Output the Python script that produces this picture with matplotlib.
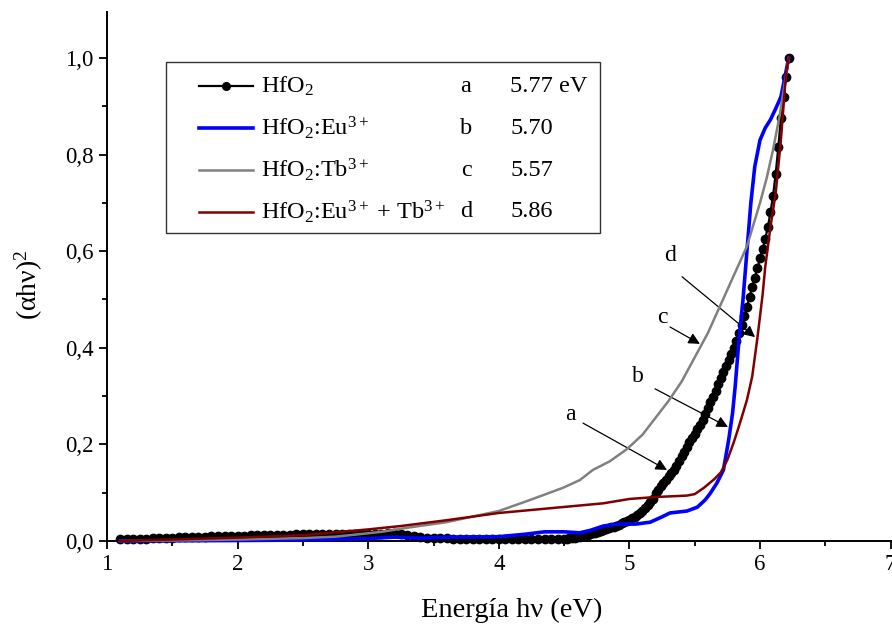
import numpy as np
import matplotlib
matplotlib.use("Agg")
import matplotlib.pyplot as plt
from matplotlib.ticker import MultipleLocator, FuncFormatter
from matplotlib.lines import Line2D
from matplotlib.patches import Rectangle

plt.rcParams['font.family'] = ['Liberation Serif', 'DejaVu Serif']
plt.rcParams['mathtext.fontset'] = 'custom'
plt.rcParams['mathtext.rm'] = 'Liberation Serif'
plt.rcParams['mathtext.it'] = 'Liberation Serif:italic'
plt.rcParams['mathtext.bf'] = 'Liberation Serif:bold'

# ---------------- data ----------------
# HfO2 (black, dotted markers)
hfo2_x_low = np.round(np.arange(1.10, 4.501, 0.05), 2)
hfo2_y_low = [0.004, 0.004, 0.004, 0.005, 0.005, 0.006, 0.006, 0.007, 0.007, 0.008,
              0.008, 0.009, 0.009, 0.009, 0.010, 0.010, 0.010, 0.011, 0.011, 0.011,
              0.012, 0.012, 0.012, 0.013, 0.013, 0.013, 0.013, 0.014, 0.014, 0.014,
              0.014, 0.014, 0.014, 0.014, 0.014, 0.014, 0.014, 0.014, 0.014, 0.015,
              0.015, 0.016, 0.016, 0.015, 0.012, 0.010, 0.008, 0.007, 0.006, 0.006,
              0.006, 0.005, 0.005, 0.005, 0.005, 0.004, 0.004, 0.004, 0.004, 0.004,
              0.004, 0.004, 0.004, 0.004, 0.004, 0.004, 0.004, 0.004, 0.005]
hfo2_x_high = np.round(np.arange(4.52, 6.221, 0.02), 2)
hfo2_y_high = [0.005, 0.006, 0.006, 0.007, 0.008, 0.009, 0.010, 0.011, 0.013, 0.014,
               0.016, 0.017, 0.019, 0.021, 0.022, 0.024, 0.026, 0.028, 0.030, 0.032,
               0.034, 0.037, 0.039, 0.042, 0.044, 0.047, 0.050, 0.054, 0.058, 0.063,
               0.068, 0.074, 0.080, 0.087, 0.100, 0.106, 0.113, 0.120, 0.127, 0.134,
               0.141, 0.148, 0.156, 0.165, 0.175, 0.185, 0.195, 0.204, 0.213, 0.222,
               0.231, 0.241, 0.251, 0.263, 0.275, 0.287, 0.299, 0.311, 0.324, 0.337,
               0.350, 0.362, 0.375, 0.388, 0.400, 0.415, 0.430, 0.447, 0.465, 0.485,
               0.505, 0.525, 0.545, 0.565, 0.585, 0.605, 0.625, 0.650, 0.680, 0.715,
               0.760, 0.815, 0.875, 0.920, 0.960, 1.000]

# HfO2:Eu3+ (blue)
eu_x = [1.10, 2.00, 2.50, 3.00, 3.20, 3.40, 3.60, 4.00, 4.20, 4.35, 4.50, 4.62, 4.70,
        4.80, 4.90, 5.05, 5.16, 5.25, 5.31, 5.44, 5.52, 5.58, 5.62, 5.67, 5.72, 5.76,
        5.79, 5.81, 5.84, 5.87, 5.90, 5.93, 5.96, 6.00, 6.04, 6.08, 6.12, 6.16, 6.22]
eu_y = [0.000, 0.001, 0.002, 0.005, 0.008, 0.006, 0.008, 0.009, 0.014, 0.019, 0.019,
        0.017, 0.022, 0.031, 0.035, 0.035, 0.039, 0.050, 0.058, 0.062, 0.070, 0.085,
        0.099, 0.120, 0.147, 0.209, 0.265, 0.320, 0.420, 0.500, 0.600, 0.700, 0.775,
        0.830, 0.855, 0.872, 0.895, 0.919, 1.000]

# HfO2:Tb3+ (grey)
tb_x = [1.10, 1.50, 2.00, 2.50, 2.75, 3.00, 3.10, 3.34, 3.60, 3.86, 4.00, 4.24, 4.49,
        4.62, 4.72, 4.85, 4.98, 5.10, 5.20, 5.30, 5.40, 5.50, 5.60, 5.70, 5.80, 5.90,
        6.00, 6.05, 6.10, 6.15, 6.22]
tb_y = [0.000, 0.001, 0.003, 0.006, 0.009, 0.016, 0.019, 0.029, 0.039, 0.054, 0.062,
        0.085, 0.110, 0.126, 0.147, 0.165, 0.190, 0.220, 0.255, 0.290, 0.330, 0.380,
        0.430, 0.490, 0.550, 0.610, 0.700, 0.750, 0.810, 0.880, 1.000]

# HfO2:Eu3+ + Tb3+ (dark red)
eutb_x = [1.10, 1.50, 2.00, 2.50, 3.00, 3.25, 3.60, 4.00, 4.40, 4.80, 5.00, 5.20, 5.44,
          5.50, 5.57, 5.65, 5.70, 5.75, 5.80, 5.83, 5.87, 5.90, 5.94, 5.98, 6.02, 6.04,
          6.08, 6.12, 6.16, 6.20, 6.22]
eutb_y = [0.000, 0.003, 0.007, 0.012, 0.024, 0.031, 0.043, 0.058, 0.068, 0.078, 0.087,
          0.091, 0.094, 0.097, 0.110, 0.128, 0.142, 0.168, 0.205, 0.230, 0.265, 0.292,
          0.340, 0.420, 0.510, 0.567, 0.650, 0.720, 0.830, 0.970, 1.000]

labels = ['HfO$_2$', 'HfO$_2$:Eu$^{3+}$', 'HfO$_2$:Tb$^{3+}$', 'HfO$_2$:Eu$^{3+}$ + Tb$^{3+}$']
letters = ['a', 'b', 'c', 'd']
gaps = ['5.77 eV', '5.70', '5.57', '5.86']
colors = ['#000000', '#0000FF', '#808080', '#800000']

# annotation positions (text, arrow tail, arrow head) in data coords
ann_text = [(4.545, 0.261), (5.066, 0.340), (5.25, 0.462), (5.311, 0.592)]
ann_tail = [(4.645, 0.244), (5.196, 0.315), (5.311, 0.443), (5.403, 0.547)]
ann_head = [(5.288, 0.147), (5.755, 0.236), (5.54, 0.408), (5.962, 0.422)]

# ---------------- figure ----------------
fig = plt.figure(figsize=(8.92, 6.29), dpi=100)
ax = fig.add_axes([107/892, (629-541)/629, (890.6-107)/892, (541-12)/629])

hx = np.concatenate([hfo2_x_low, hfo2_x_high])
hy = np.concatenate([hfo2_y_low, hfo2_y_high])
ax.plot(hx, hy, color=colors[0], lw=1.6, marker='o', ms=6.0, zorder=3, clip_on=False)
ax.plot(eu_x, eu_y, color=colors[1], lw=2.6, zorder=4, clip_on=False)
ax.plot(tb_x, tb_y, color=colors[2], lw=1.8, zorder=4, clip_on=False)
ax.plot(eutb_x, eutb_y, color=colors[3], lw=1.8, zorder=5, clip_on=False)

ax.set_xlim(1, 7)
ax.set_ylim(0, 1.095)
ax.spines['top'].set_visible(False)
ax.spines['right'].set_visible(False)
for s in ['left', 'bottom']:
    ax.spines[s].set_linewidth(1.4)
ax.xaxis.set_major_locator(MultipleLocator(1))
ax.xaxis.set_minor_locator(MultipleLocator(0.5))
ax.yaxis.set_major_locator(MultipleLocator(0.2))
ax.yaxis.set_minor_locator(MultipleLocator(0.1))
ax.yaxis.set_major_formatter(FuncFormatter(lambda v, p: f"{v:.1f}".replace('.', ',')))
ax.tick_params(which='major', direction='out', length=6, width=1.3, labelsize=16.5)
ax.tick_params(which='minor', direction='out', length=3.5, width=1.3)

ax.set_xlabel('Energía hν (eV)', fontsize=20.5)
ax.set_ylabel('(αhν)$^2$', fontsize=20)
ax.xaxis.set_label_coords(0.516, -0.132)
ax.xaxis.label.set_verticalalignment('center')
ax.yaxis.set_label_coords(-0.0995, 0.484)
ax.yaxis.label.set_verticalalignment('center')
ax.yaxis.label.set_horizontalalignment('center')

for t, tail, head in zip(letters, ann_tail, ann_head):
    ax.annotate('', xy=head, xytext=tail,
                arrowprops=dict(arrowstyle='-|>', color='black', lw=0.9,
                                mutation_scale=17, shrinkA=0, shrinkB=0))
for t, pos in zip(letters, ann_text):
    ax.text(pos[0], pos[1], t, fontsize=17, ha='center', va='center')

# ---------------- legend (manual box) ----------------
def px2ax(px, py):
    return ((px - 107) / (890.6 - 107), (541 - py) / (541 - 12))

x0, y0 = px2ax(166, 233)
x1, y1 = px2ax(600, 62)
ax.add_patch(Rectangle((x0, y0), x1 - x0, y1 - y0, transform=ax.transAxes,
                       facecolor='white', edgecolor='#333333', lw=1.0, zorder=10))
rows_py = [86, 128, 170, 212]
for i, py in enumerate(rows_py):
    hx0, hy0 = px2ax(199, py)
    hx1, _ = px2ax(253, py)
    ln = Line2D([hx0, hx1], [hy0, hy0], transform=ax.transAxes, color=colors[i],
                lw=[1.6, 2.6, 1.8, 1.8][i], zorder=11)
    ax.add_line(ln)
    if i == 0:
        ax.add_line(Line2D([(hx0 + hx1) / 2], [hy0], transform=ax.transAxes,
                           color='black', marker='o', ms=5.5, zorder=12))
    tx, ty = px2ax(261, py)
    ax.text(tx, ty, labels[i], transform=ax.transAxes, fontsize=17.5,
            ha='left', va='center', zorder=12)
    lx, _ = px2ax(466, py)
    ax.text(lx, ty, letters[i], transform=ax.transAxes, fontsize=17.5,
            ha='center', va='center', zorder=12)
    vx, _ = px2ax(510, py)
    ax.text(vx, ty, gaps[i], transform=ax.transAxes, fontsize=17.5,
            ha='left', va='center', zorder=12)

fig.savefig('out.png', dpi=100)
